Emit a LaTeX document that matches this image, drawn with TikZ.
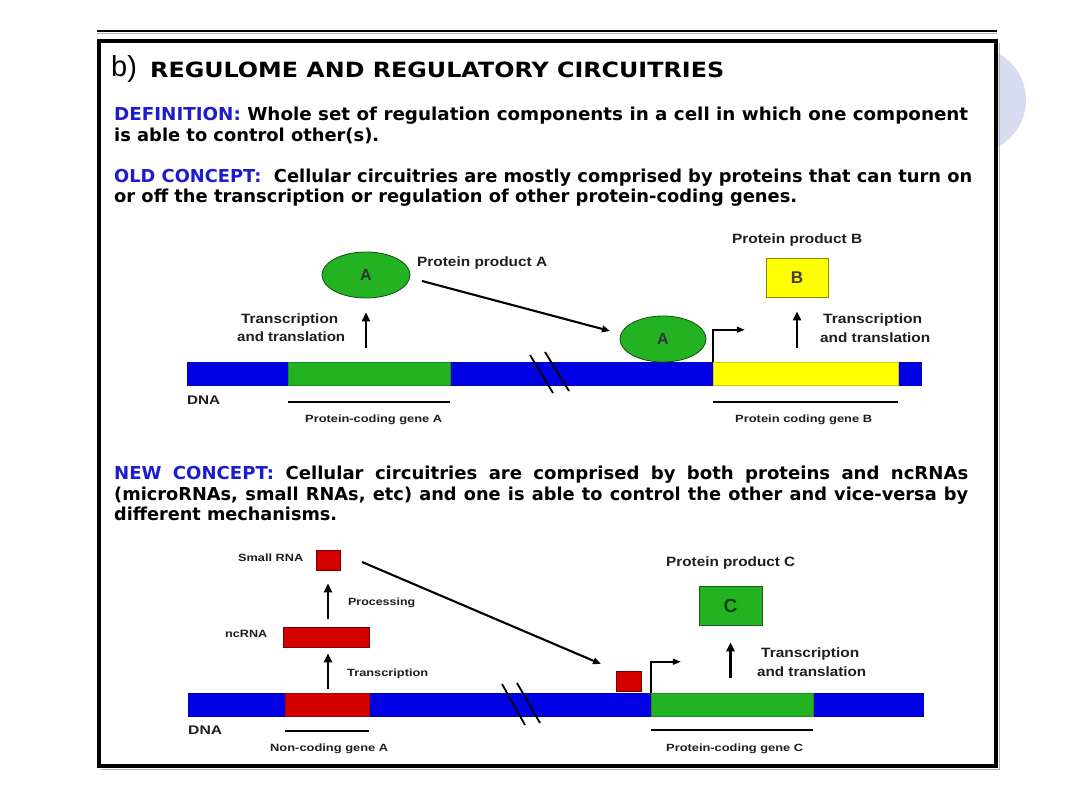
\documentclass[tikz,border=0pt]{standalone}
\usepackage{fontspec}
\usepackage{graphicx}
\setmainfont{DejaVu Sans}
\newfontfamily\arialf{Liberation Sans}
\usetikzlibrary{arrows.meta,shapes.geometric}
\definecolor{dnablue}{RGB}{0,0,228}
\definecolor{gengreen}{RGB}{34,178,34}
\definecolor{genyellow}{RGB}{255,255,0}
\definecolor{genred}{RGB}{212,0,0}
\definecolor{conblue}{RGB}{28,28,205}
\definecolor{lav}{RGB}{217,219,240}
\definecolor{labcol}{RGB}{30,30,30}
\newcommand\fitw[2]{\resizebox{#1pt}{\height}{#2}}
\begin{document}
\begin{tikzpicture}[x=1pt,y=-1pt,
 bodytxt/.style={anchor=base west,inner sep=0pt,font=\bfseries\fontsize{17.8}{20}\selectfont},
 lab/.style={anchor=base west,inner sep=0pt,text=labcol,font=\arialf\bfseries\fontsize{13.5}{15}\selectfont},
 slab/.style={lab,font=\arialf\bfseries\fontsize{10.5}{12}\selectfont},
 bar/.style={rectangle,inner sep=0pt,minimum height=23pt,draw=#1!80!black,fill=#1,line width=0.5pt},
 genebox/.style={rectangle,inner sep=0pt,draw=#1!55!black,fill=#1,line width=0.8pt},
 prot/.style={ellipse,inner sep=0pt,minimum width=88pt,minimum height=46pt,fill=gengreen,draw=gengreen!45!black,line width=0.8pt,font=\arialf\bfseries\fontsize{16}{16}\selectfont,text=black!80},
 arr/.style={-{Triangle[length=8pt,width=6.5pt]},line width=2.1pt},
 uparr/.style={-{Triangle[length=9pt,width=8pt]},line width=2.2pt},
 prom/.style={-{Triangle[length=8pt,width=6pt]},line width=1.6pt},
 brk/.style={line width=1.8pt},
 gline/.style={line width=1.8pt}]
\useasboundingbox (0,0) rectangle (1080,810);
\fill[white] (0,0) rectangle (1080,810);
% decoration
\fill[lav] (973,100) circle[radius=53pt];
\draw[black!30,line width=1pt] (101,769) -- (999,769) -- (999,43);
\draw[line width=3.2pt,fill=white] (99,41) rectangle (996,766);
\draw[line width=1.3pt] (97,31) -- (997,31);
\draw[black!30,line width=0.8pt] (97,33.5) -- (997,33.5);
% title
\node[anchor=base west,inner sep=0pt,font=\arialf\fontsize{29}{30}\selectfont] (tb) at (111,77) {b)};
\node[anchor=base west,inner sep=0pt,font=\bfseries\fontsize{21}{22}\selectfont] (title) at (150,77.5) {\fitw{574}{REGULOME AND REGULATORY CIRCUITRIES}};
% body text
\node[bodytxt] (d1) at (114,121) {\fitw{854}{\textcolor{conblue}{DEFINITION:} Whole set of regulation components in a cell in which one component}};
\node[bodytxt] (d2) at (114,141.5) {\fitw{265}{is able to control other(s).}};
\node[bodytxt] (o1) at (114,182.5) {\fitw{858}{\textcolor{conblue}{OLD CONCEPT:}\ \ Cellular circuitries are mostly comprised by proteins that can turn on}};
\node[bodytxt] (o2) at (114,203) {\fitw{683}{or off the transcription or regulation of other protein-coding genes.}};
\node[bodytxt] (n1) at (114,480) {\fitw{854}{\makebox[\dimexpr\width+50pt\relax][s]{\textcolor{conblue}{NEW CONCEPT:} Cellular circuitries are comprised by both proteins and ncRNAs}}};
\node[bodytxt] (n2) at (114,500.5) {\fitw{854}{\makebox[\dimexpr\width+15pt\relax][s]{(microRNAs, small RNAs, etc) and one is able to control the other and vice-versa by}}};
\node[bodytxt] (n3) at (114,521) {\fitw{223}{different mechanisms.}};
% ---------- old concept diagram
\node[bar=dnablue,minimum width=734pt] (dna1) at (554,373.5) {};
\node[bar=gengreen,minimum width=162pt] (geneA) at (369,373.5) {};
\node[bar=genyellow,minimum width=185pt] (geneB) at (805.5,373.5) {};
\node[prot] (A1) at (366,275) {A};
\node[prot,minimum width=86pt] (A2) at (663,339) {A};
\node[genebox=genyellow,minimum width=62pt,minimum height=39pt,font=\arialf\bfseries\fontsize{17}{17}\selectfont,text=black!75] (B) at (797,277.5) {B};
\coordinate (a1s) at (422,281);
\coordinate (a1e) at (610,331);
\draw[arr] (a1s) -- (a1e);
\draw[uparr,shorten <=14pt,shorten >=14pt] (A1.south |- geneA.north) -- (A1.south);
\draw[uparr,shorten <=14pt,shorten >=14pt] (B.south |- geneB.north) -- (B.south);
\draw[prom] (geneB.north west) -- ++(0,-32) -- ++(32,0);
\draw[brk] (530,355) -- (553,393);
\draw[brk] (545,352) -- (569,391);
\draw[gline] ([yshift=-17pt]geneA.south west) -- ([yshift=-17pt]geneA.south east);
\draw[gline] ([yshift=-17pt]geneB.south west) -- ([yshift=-17pt]geneB.south east);
\node[lab] (lpa) at (417,266.5) {\fitw{130}{Protein product A}};
\node[lab] (lt1) at (241,323.5) {\fitw{97}{Transcription}};
\node[lab] (lt2) at (237,341.5) {\fitw{108}{and translation}};
\node[lab] (lpb) at (732,243.5) {\fitw{130}{Protein product B}};
\node[lab] (lt3) at (823,323.5) {\fitw{99}{Transcription}};
\node[lab] (lt4) at (820,342.5) {\fitw{110}{and translation}};
\node[lab,font=\arialf\bfseries\fontsize{12.5}{12}\selectfont] (ldna1) at (187,404.3) {\fitw{33}{DNA}};
\node[slab] (lga) at (305,422.6) {\fitw{137}{Protein-coding gene A}};
\node[slab] (lgb) at (735,422.6) {\fitw{137}{Protein coding gene B}};
% ---------- new concept diagram
\node[bar=dnablue,minimum width=735pt] (dna2) at (555.5,704.5) {};
\node[bar=genred,minimum width=84pt] (ncgene) at (327,704.5) {};
\node[bar=gengreen,minimum width=162pt] (geneC) at (732,704.5) {};
\node[genebox=genred,minimum width=86pt,minimum height=20pt] (ncrna) at (326,637) {};
\node[genebox=genred,minimum width=24pt,minimum height=20pt] (srna) at (328,560) {};
\node[genebox=genred,minimum width=25pt,minimum height=20pt] (srna2) at (628.5,681) {};
\node[genebox=gengreen,minimum width=63pt,minimum height=39pt,font=\arialf\bfseries\fontsize{19}{19}\selectfont,text=green!25!black] (C) at (730.5,605.5) {C};
\draw[uparr,shorten <=4pt,shorten >=6pt] (srna.south |- ncgene.north) -- (srna.south |- ncrna.south);
\draw[uparr,shorten <=8pt,shorten >=13pt] (srna.south |- ncrna.north) -- (srna.south);
\draw[uparr,shorten <=15pt,shorten >=17pt] (C.south |- geneC.north) -- (C.south);
\coordinate (s2s) at (362,562);
\coordinate (s2e) at (601,664);
\draw[arr] (s2s) -- (s2e);
\draw[prom] (geneC.north west) -- ++(0,-31) -- ++(30,0);
\draw[brk] (502,684) -- (525,725);
\draw[brk] (517,683) -- (540,723);
\draw[gline] ([yshift=-15pt]ncgene.south west) -- ([yshift=-15pt]ncgene.south east);
\draw[gline] ([yshift=-14pt]geneC.south west) -- ([yshift=-14pt]geneC.south east);
\node[slab] (lsr) at (238,561.6) {\fitw{65}{Small RNA}};
\node[slab] (lpr) at (348,605.6) {\fitw{67}{Processing}};
\node[slab] (lnc) at (225,637.6) {\fitw{42}{ncRNA}};
\node[slab] (ltr) at (347,676.6) {\fitw{81}{Transcription}};
\node[lab,font=\arialf\bfseries\fontsize{12.5}{12}\selectfont] (ldna2) at (188,734.3) {\fitw{34}{DNA}};
\node[slab] (lnga) at (270,751.6) {\fitw{118}{Non-coding gene A}};
\node[lab] (lpc) at (666,566.5) {\fitw{129}{Protein product C}};
\node[lab] (lt5) at (761,657.5) {\fitw{98}{Transcription}};
\node[lab] (lt6) at (757,676.5) {\fitw{109}{and translation}};
\node[slab] (lgc) at (666,751.6) {\fitw{137}{Protein-coding gene C}};
\end{tikzpicture}
\end{document}
